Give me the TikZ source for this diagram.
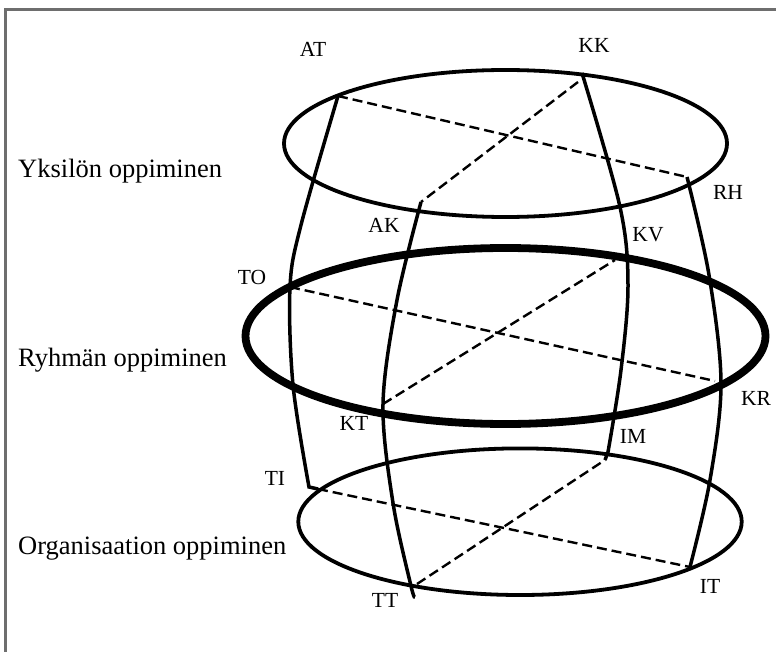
\documentclass[tikz,border=0pt]{standalone}
\usepackage{fontspec}
\setmainfont{Liberation Serif}
\definecolor{frameGray}{HTML}{6E6E6E}
\begin{document}
\begin{tikzpicture}[x=1pt,y=-1pt,
  ring/.style={line width=3.8pt},
  thickring/.style={line width=7.8pt},
  meridian/.style={line width=3.5pt, line join=miter},
  chord/.style={line width=2.4pt, dash pattern=on 10pt off 5pt},
  lbl/.style={font=\fontsize{21.5}{23}\selectfont, anchor=base, inner sep=0pt},
  side/.style={font=\fontsize{26.5}{30}\selectfont, anchor=base west, inner sep=0pt},
  frameline/.style={draw=frameGray, line width=2.3pt}]
\useasboundingbox (0,0) rectangle (776,652);
\draw[frameline] (5.5,652) -- (5.5,9.5) -- (776,9.5);

% ellipses (levels)
\draw[ring] (505.5,143.5) ellipse [x radius=221.5pt, y radius=73.5pt];
\draw[thickring] (505.5,336) ellipse [x radius=260pt, y radius=88pt];
\draw[ring] (520,521.7) ellipse [x radius=221.7pt, y radius=73.3pt];

% named points
\coordinate (AT) at (338,96);
\coordinate (KK) at (582,73);
\coordinate (KKd) at (578,82);
\coordinate (RH) at (687,177);
\coordinate (AK) at (421,202);
\coordinate (TO) at (290,287);
\coordinate (KVd) at (615,260);
\coordinate (KT) at (383,404);
\coordinate (KR) at (715,381);
\coordinate (IM) at (605,460);
\coordinate (TIc) at (309,487);
\coordinate (TI) at (318,489);
\coordinate (TT) at (411,586);
\coordinate (TTd) at (417,584);
\coordinate (TTe) at (415,597);
\coordinate (IT) at (690,567);

% meridians
\draw[meridian] plot[smooth, tension=0.55] coordinates {(AT) (301,225) (TO) (293,385) (TIc)} -- (TI);
\draw[meridian] plot[smooth, tension=0.55] coordinates {(AK) (397,300) (KT) (393,503) (TT) (TTe)};
\draw[meridian] plot[smooth, tension=0.55] coordinates {(KK) (620,207) (628,285) (621,370) (608,452)} -- (IM);
\draw[meridian] plot[smooth, tension=0.55] coordinates {(RH) (709,275) (721,383) (710,480) (IT)};

% chords
\draw[chord] (AT) -- (RH);
\draw[chord] (KKd) -- (AK);
\draw[chord] (TO) -- (KR);
\draw[chord] (KT) -- (KVd);
\draw[chord] (TI) -- (IT);
\draw[chord] (TTd) -- (IM);

% point labels
\node[lbl] (lAT) at (313,57) {AT};
\node[lbl] (lKK) at (594,53) {KK};
\node[lbl] (lRH) at (728,200) {RH};
\node[lbl] (lAK) at (384,233) {AK};
\node[lbl] (lKV) at (648,242) {KV};
\node[lbl] (lTO) at (252,284) {TO};
\node[lbl] (lKR) at (756,405) {KR};
\node[lbl] (lKT) at (354,430) {KT};
\node[lbl] (lIM) at (633,443) {IM};
\node[lbl] (lTI) at (275,485) {TI};
\node[lbl] (lTT) at (385,607) {TT};
\node[lbl] (lIT) at (710,593) {IT};

% level names
\node[side] (yks) at (18,178) {Yksilön oppiminen};
\node[side] (ryh) at (18,366) {Ryhmän oppiminen};
\node[side] (org) at (18,554) {Organisaation oppiminen};
\end{tikzpicture}
\end{document}
